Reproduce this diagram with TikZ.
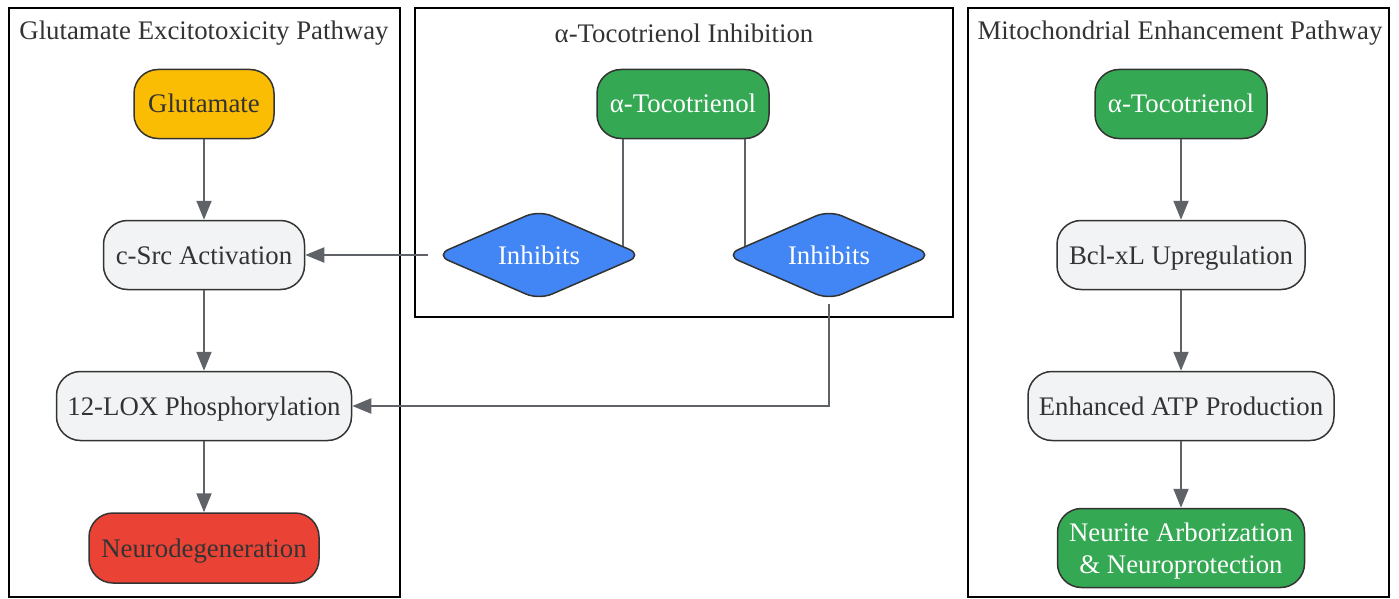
\documentclass[tikz,border=0pt]{standalone}
\usepackage{fontspec}
\setmainfont{Liberation Serif}
\usetikzlibrary{shapes.geometric,arrows.meta}
\definecolor{ink}{HTML}{333333}
\definecolor{edge}{HTML}{5F6368}
\definecolor{gAmber}{HTML}{FBBC04}
\definecolor{gLite}{HTML}{F1F3F4}
\definecolor{gRed}{HTML}{EA4335}
\definecolor{gGreen}{HTML}{34A853}
\definecolor{gBlue}{HTML}{4285F4}

\begin{document}
\begin{tikzpicture}[x=1pt,y=-1pt, % one unit = one pixel, y runs down
  every node/.style={font=\fontsize{26.8}{32}\selectfont, text=ink},
  box/.style={draw=ink, line width=1.5pt, rounded corners=24pt, inner sep=0pt, minimum height=69pt,
    text height=23pt, text depth=5pt},
  lite/.style={box, fill=gLite},
  inhib/.style={diamond, draw=ink, line width=1.5pt, fill=gBlue, text=white, rounded corners=14pt,
    inner sep=0pt, aspect=2.3, minimum width=207pt, minimum height=90pt, text height=23pt, text depth=5pt},
  link/.style={draw=edge, line width=2pt},
  flow/.style={link, -{Triangle[length=19pt,width=15pt]}},
  frame/.style={draw=black, line width=2pt}]
\useasboundingbox (0,0) rectangle (1399,599);

% cluster frames
\draw[frame] (9,8) rectangle (400,597);
\draw[frame] (415,8) rectangle (953,317);
\draw[frame] (968,8) rectangle (1389,597);

\node (ttlGlu) at (204,33) {Glutamate Excitotoxicity Pathway};
\node (ttlInh) at (684,33) {α-Tocotrienol Inhibition};
\node (ttlMito) at (1180,33) {Mitochondrial Enhancement Pathway};

% glutamate pathway
\node[box, fill=gAmber, minimum width=140pt] (glu) at (204,104) {Glutamate};
\node[lite, minimum width=201pt] (csrc) at (204,255) {c-Src Activation};
\node[lite, minimum width=295pt] (lox) at (204,406) {12-LOX Phosphorylation};
\node[box, fill=gRed, minimum width=230pt, minimum height=70pt] (neuro) at (204,548) {Neurodegeneration};

% inhibition
\node[box, fill=gGreen, text=white, minimum width=172pt] (tocoI) at (683,104) {α-Tocotrienol};
\node[inhib] (inhL) at (539,255) {Inhibits};
\node[inhib] (inhR) at (829,255) {Inhibits};

% mitochondrial pathway
\node[box, fill=gGreen, text=white, minimum width=172pt] (tocoM) at (1181,104) {α-Tocotrienol};
\node[lite, minimum width=248pt] (bcl) at (1181,255) {Bcl-xL Upregulation};
\node[lite, minimum width=306pt] (atp) at (1181,406) {Enhanced ATP Production};
\node[box, fill=gGreen, text=white, minimum width=247pt, minimum height=79pt, align=center,
  text height=56pt, text depth=6pt] (neurite) at (1181,548)
  {Neurite Arborization\\\& Neuroprotection};

\foreach \a/\b in {glu/csrc, csrc/lox, lox/neuro, tocoM/bcl, bcl/atp, atp/neurite}
  \draw[flow] (\a) -- (\b);

\draw[link] (tocoI.south -| inhL.6) -- (inhL.6);
\draw[link] (tocoI.south -| inhR.174) -- (inhR.174);
\draw[flow, shorten <=7pt] (inhL.west) -- (csrc.east);
\draw[flow, shorten <=3pt] (inhR.south) |- (lox.east);

\end{tikzpicture}
\end{document}
